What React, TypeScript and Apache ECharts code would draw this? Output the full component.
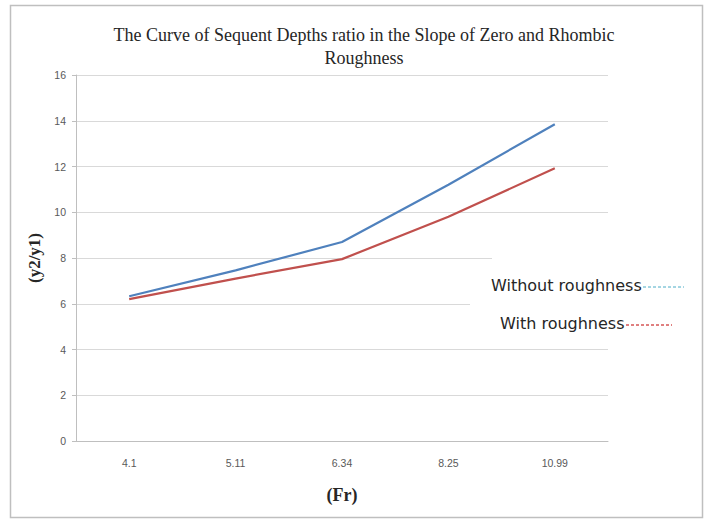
import React, { useEffect, useRef } from "react";
import * as echarts from "echarts";

const froudeNumbers = ["4.1", "5.11", "6.34", "8.25", "10.99"];
const withoutRoughness = [6.33, 7.46, 8.7, 11.2, 13.85];
const withRoughness = [6.2, 7.1, 7.95, 9.8, 11.92];
const seriesNames = ["Without roughness", "With roughness"];
const titleLines = [
  "The Curve of Sequent Depths ratio in the Slope of Zero and Rhombic",
  "Roughness",
];

export default function App() {
  const ref = useRef<HTMLDivElement>(null);

  useEffect(() => {
    if (!ref.current) return;
    const chart = echarts.init(ref.current, undefined, { renderer: "svg" });
    const serif = "'Liberation Serif', 'DejaVu Serif', serif";
    const sans = "'Liberation Sans', Arial, sans-serif";
    const legendFont = "'DejaVu Sans', sans-serif";
    chart.setOption({
      animation: false,
      backgroundColor: "#ffffff",
      title: {
        text: titleLines.join("\n"),
        left: 359,
        top: 18,
        textAlign: "center",
        textStyle: {
          fontFamily: serif,
          fontSize: 18,
          fontWeight: "normal",
          color: "#262626",
          lineHeight: 23,
        },
      },
      grid: { left: 76, right: 96, top: 75, bottom: 79, containLabel: false },
      xAxis: {
        type: "category",
        data: froudeNumbers,
        boundaryGap: true,
        name: "(Fr)",
        nameLocation: "middle",
        nameGap: 45,
        nameTextStyle: {
          fontFamily: serif,
          fontSize: 18,
          fontWeight: "bold",
          color: "#262626",
        },
        axisLine: { show: true, lineStyle: { color: "#bfbfbf", width: 1 } },
        axisTick: { show: false },
        axisLabel: {
          margin: 16,
          fontFamily: sans,
          fontSize: 10.5,
          color: "#595959",
        },
      },
      yAxis: {
        type: "value",
        min: 0,
        max: 16,
        interval: 2,
        name: "(y2/y1)",
        nameLocation: "middle",
        nameGap: 33,
        nameRotate: 90,
        nameTextStyle: {
          fontFamily: serif,
          fontSize: 17,
          fontWeight: "bold",
          color: "#262626",
        },
        axisLine: { show: true, lineStyle: { color: "#bfbfbf", width: 1 } },
        axisTick: { show: true, length: 4, lineStyle: { color: "#bfbfbf" } },
        axisLabel: {
          margin: 10,
          fontFamily: sans,
          fontSize: 10.5,
          color: "#595959",
        },
        splitLine: { show: true, lineStyle: { color: "#d9d9d9", width: 1 } },
      },
      series: [
        {
          name: seriesNames[0],
          type: "line",
          data: withoutRoughness,
          symbol: "none",
          lineStyle: { color: "#4f81bd", width: 2.2 },
          z: 3,
        },
        {
          name: seriesNames[1],
          type: "line",
          data: withRoughness,
          symbol: "none",
          lineStyle: { color: "#c0504d", width: 2.2 },
          z: 2,
        },
      ],
      graphic: [
        {
          type: "rect",
          shape: { x: 10.5, y: 5.5, width: 692, height: 512 },
          style: { fill: "none", stroke: "#bfbfbf", lineWidth: 1.5 },
          silent: true,
          z: 0,
        },
        // text boxes that sit over the grid on the right
        {
          type: "rect",
          shape: { x: 492, y: 252, width: 200, height: 48 },
          style: { fill: "#ffffff" },
          z: 10,
        },
        {
          type: "rect",
          shape: { x: 470, y: 300, width: 222, height: 42 },
          style: { fill: "#ffffff" },
          z: 10,
        },
        {
          type: "text",
          x: 491,
          y: 285,
          style: {
            text: seriesNames[0],
            fontFamily: legendFont,
            fontSize: 16,
            fill: "#262626",
            verticalAlign: "middle",
            align: "left",
          },
          z: 11,
        },
        {
          type: "line",
          shape: { x1: 643, y1: 287, x2: 684, y2: 287 },
          style: { stroke: "#4bacc6", lineWidth: 1, lineDash: [3, 2] },
          z: 11,
        },
        {
          type: "text",
          x: 500,
          y: 323,
          style: {
            text: seriesNames[1],
            fontFamily: legendFont,
            fontSize: 16,
            fill: "#262626",
            verticalAlign: "middle",
            align: "left",
          },
          z: 11,
        },
        {
          type: "line",
          shape: { x1: 626, y1: 325, x2: 672, y2: 325 },
          style: { stroke: "#c00000", lineWidth: 1, lineDash: [3, 2] },
          z: 11,
        },
      ],
    });
    return () => chart.dispose();
  }, []);

  return (
    <div
      ref={ref}
      style={{ width: 704, height: 520, position: "absolute", left: 0, top: 0 }}
    />
  );
}
